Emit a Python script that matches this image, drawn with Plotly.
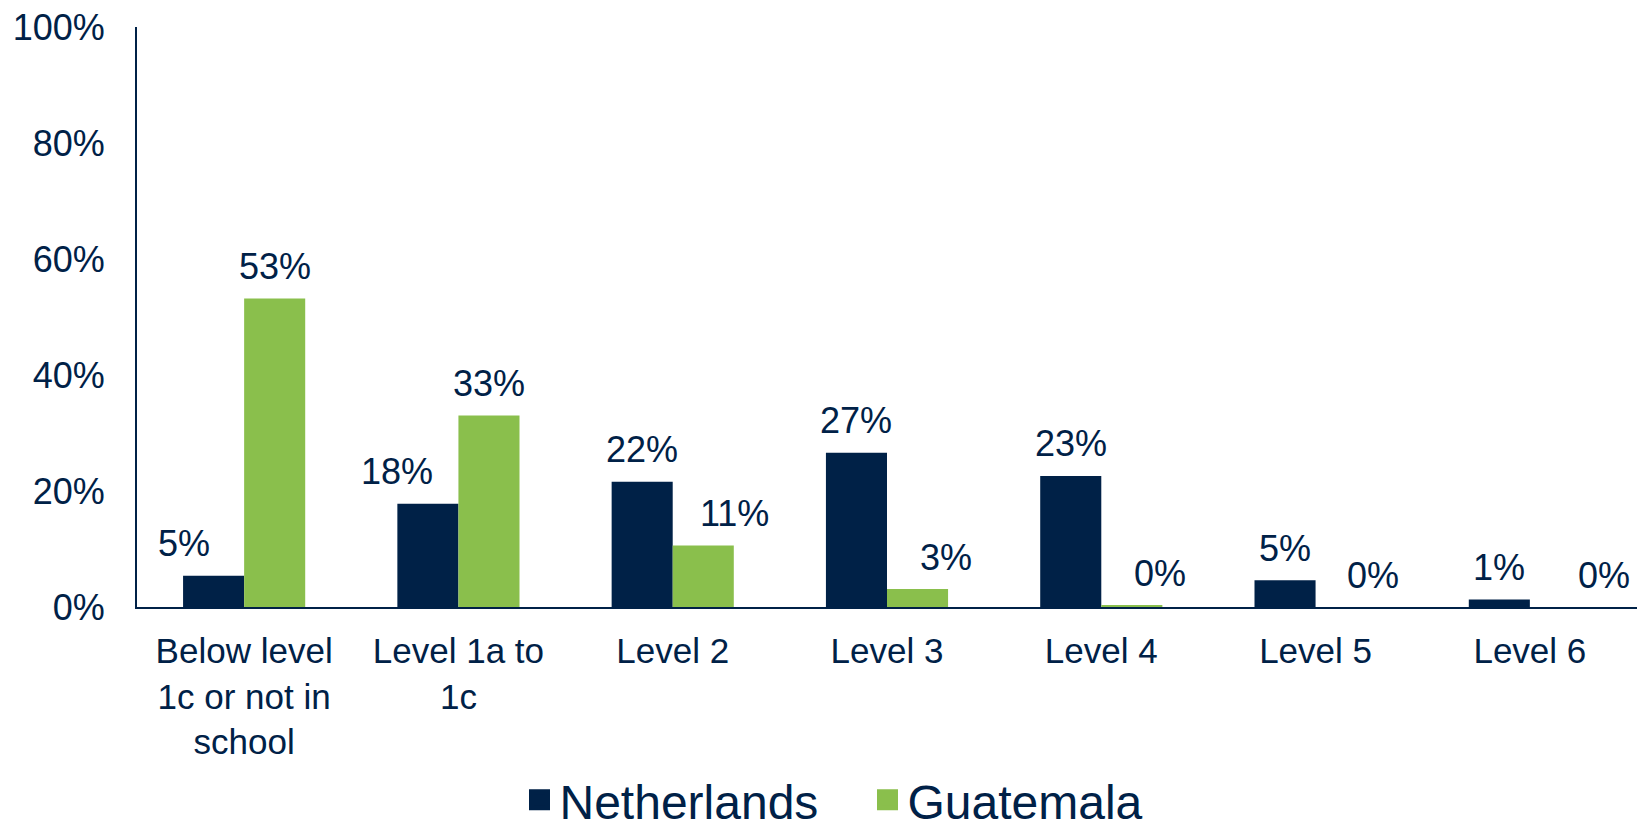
import plotly.graph_objects as go

# Share of students at each proficiency level (%)
categories = ["Below level<br>1c or not in<br>school", "Level 1a to<br>1c", "Level 2",
              "Level 3", "Level 4", "Level 5", "Level 6"]
netherlands = [5.4, 17.8, 21.6, 26.6, 22.6, 4.6, 1.3]
guatemala = [53.2, 33.0, 10.6, 3.1, 0.3, 0.0, 0.0]
y_ticks = [0, 20, 40, 60, 80, 100]
y_tick_text = ["0%", "20%", "40%", "60%", "80%", "100%"]

NAVY = "#002147"
GREEN = "#8ABF4C"
FONT = "Liberation Sans, Arial, sans-serif"

# horizontal nudges (px) for value labels so they clear neighbouring bars
nl_label_dx = [-30, -31, 0, 0, 0, 0, 0]
gt_label_dx = [0, 0, 31, 28, 28, 27, 44]

BAR_HALF = 0.1425  # centre offset of each bar within its group (category units)

x_idx = list(range(len(categories)))

fig = go.Figure()
fig.add_trace(go.Bar(x=x_idx, y=netherlands, name="Netherlands",
                     marker=dict(color=NAVY, line=dict(width=0)), showlegend=False))
fig.add_trace(go.Bar(x=x_idx, y=guatemala, name="Guatemala",
                     marker=dict(color=GREEN, line=dict(width=0)), showlegend=False))

# legend entries with larger square swatches
for name, col in [("Netherlands", NAVY), ("Guatemala", GREEN)]:
    fig.add_trace(go.Scatter(x=[None], y=[None], mode="markers", name=name,
                             marker=dict(symbol="square", size=16, color=col,
                                         line=dict(color=col, width=5))))

annotations = []
for i in x_idx:
    for vals, dx, sign in [(netherlands, nl_label_dx, -1), (guatemala, gt_label_dx, 1)]:
        annotations.append(dict(
            x=i + sign * BAR_HALF, y=vals[i], xref="x", yref="y",
            text=f"{round(vals[i]):d}%", showarrow=False,
            xanchor="center", yanchor="middle", xshift=dx[i], yshift=32,
            font=dict(family=FONT, size=36, color=NAVY)))

fig.update_layout(
    width=1641, height=831,
    margin=dict(l=137, r=4, t=27, b=224, autoexpand=False),
    paper_bgcolor="white", plot_bgcolor="white",
    barmode="group", bargap=0.43, bargroupgap=0,
    font=dict(family=FONT, size=36, color=NAVY),
    annotations=annotations,
    legend=dict(orientation="h", x=0.255, xanchor="left", y=-0.333, yanchor="middle",
                font=dict(family=FONT, size=48, color=NAVY),
                entrywidth=303, entrywidthmode="pixels",
                itemsizing="trace", bgcolor="rgba(0,0,0,0)"),
    xaxis=dict(range=[-0.5, 6.5], tickmode="array", tickvals=x_idx, ticktext=categories,
               showline=True, linecolor=NAVY, linewidth=2, showgrid=False, zeroline=False,
               ticks="", ticklabelstandoff=12, tickfont=dict(size=35, color=NAVY)),
    yaxis=dict(range=[0, 100], tickmode="array", tickvals=y_ticks, ticktext=y_tick_text,
               showline=True, linecolor=NAVY, linewidth=2, showgrid=False, zeroline=False,
               ticks="", ticklabelstandoff=23, tickfont=dict(size=36, color=NAVY)),
)

fig.write_html("out.html")
